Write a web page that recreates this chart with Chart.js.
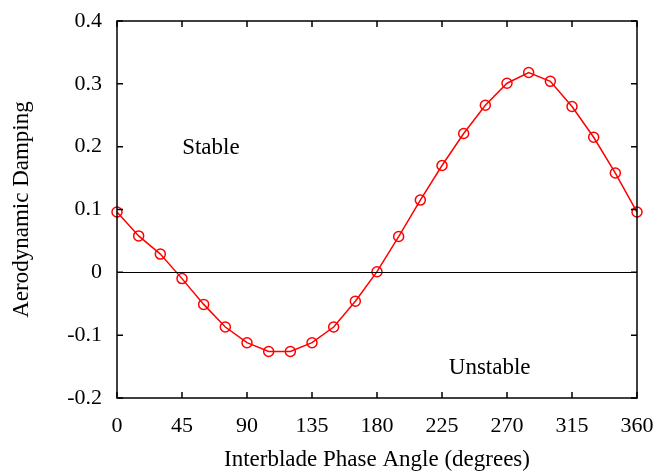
<!DOCTYPE html>
<html>
<head>
<meta charset="utf-8">
<script src="https://cdn.jsdelivr.net/npm/chart.js@4/dist/chart.umd.min.js"></script>
<style>
  html, body { margin: 0; padding: 0; background: #fff; }
  #wrap { width: 660px; height: 471px; }
</style>
</head>
<body>
<div id="wrap"><canvas id="dampingChart" width="660" height="471"></canvas></div>
<script>
// data
const phaseAngles = [0, 15, 30, 45, 60, 75, 90, 105, 120, 135, 150, 165, 180,
                     195, 210, 225, 240, 255, 270, 285, 300, 315, 330, 345, 360];
const damping = [0.096, 0.058, 0.029, -0.010, -0.051, -0.087, -0.112, -0.126, -0.126,
                 -0.112, -0.087, -0.046, 0.001, 0.057, 0.115, 0.170, 0.221, 0.266,
                 0.301, 0.318, 0.304, 0.264, 0.215, 0.158, 0.096];
const xTicks = [0, 45, 90, 135, 180, 225, 270, 315, 360];
const yTicks = [-0.2, -0.1, 0, 0.1, 0.2, 0.3, 0.4];
const labels = [
  { text: 'Stable', x: 65, y: 0.198 },
  { text: 'Unstable', x: 258, y: -0.152 }
];

const serif = '"Liberation Serif", "Times New Roman", serif';

// the scales would otherwise push the plot box in for their edge labels
function fixSize(prop, size) {
  return scale => {
    scale[prop] = size;
    scale.paddingTop = scale.paddingBottom = 0;
    scale.paddingLeft = scale.paddingRight = 0;
  };
}

// frame, inward ticks, zero line and the two region labels
const framePlugin = {
  id: 'frame',
  afterDatasetsDraw(chart) {
    const c = chart.ctx;
    const a = chart.chartArea;
    const xs = chart.scales.x, ys = chart.scales.y;
    const tl = 6;
    c.save();
    c.strokeStyle = '#000';

    // zero line
    c.lineWidth = 1;
    const y0 = Math.round(ys.getPixelForValue(0)) + 0.5;
    c.beginPath();
    c.moveTo(a.left, y0);
    c.lineTo(a.right, y0);
    c.stroke();

    c.lineWidth = 1.5;
    c.beginPath();
    xTicks.forEach(v => {
      const px = xs.getPixelForValue(v);
      c.moveTo(px, a.bottom); c.lineTo(px, a.bottom - tl);
      c.moveTo(px, a.top); c.lineTo(px, a.top + tl);
    });
    yTicks.forEach(v => {
      const py = ys.getPixelForValue(v);
      c.moveTo(a.left, py); c.lineTo(a.left + tl, py);
      c.moveTo(a.right, py); c.lineTo(a.right - tl, py);
    });
    c.stroke();
    c.strokeRect(a.left, a.top, a.right - a.left, a.bottom - a.top);

    c.fillStyle = '#000';
    c.font = '23px ' + serif;
    c.textAlign = 'center';
    c.textBaseline = 'middle';
    labels.forEach(l => {
      c.fillText(l.text, xs.getPixelForValue(l.x), ys.getPixelForValue(l.y));
    });
    c.restore();
  }
};

const ctx = document.getElementById('dampingChart');

new Chart(ctx, {
  type: 'line',
  data: {
    datasets: [{
      data: phaseAngles.map((a, i) => ({ x: a, y: damping[i] })),
      borderColor: '#ff0000',
      borderWidth: 1.5,
      backgroundColor: 'rgba(0,0,0,0)',
      pointBorderColor: '#ff0000',
      pointBackgroundColor: 'rgba(0,0,0,0)',
      pointBorderWidth: 1.5,
      pointRadius: 5,
      tension: 0,
      fill: false,
      clip: false
    }]
  },
  options: {
    responsive: false,
    animation: false,
    layout: { padding: { left: 0, right: 23, top: 21, bottom: 0 } },
    plugins: { legend: { display: false }, tooltip: { enabled: false } },
    scales: {
      x: {
        type: 'linear',
        min: 0, max: 360,
        afterFit: fixSize('height', 73),
        afterBuildTicks(scale) { scale.ticks = xTicks.map(v => ({ value: v })); },
        grid: { display: false, drawTicks: false },
        border: { display: false },
        ticks: {
          color: '#000', padding: 15, maxRotation: 0,
          font: { family: serif, size: 22 }
        },
        title: {
          display: true, text: 'Interblade Phase Angle (degrees)',
          color: '#000', font: { family: serif, size: 23 },
          padding: { top: 0, bottom: -3 }
        }
      },
      y: {
        min: -0.2, max: 0.4,
        afterFit: fixSize('width', 117),
        afterBuildTicks(scale) { scale.ticks = yTicks.map(v => ({ value: v })); },
        grid: { display: false, drawTicks: false },
        border: { display: false },
        ticks: {
          color: '#000', padding: 15,
          font: { family: serif, size: 22 },
          callback: v => String(Math.round(v * 10) / 10)
        },
        title: {
          display: true, text: 'Aerodynamic Damping',
          color: '#000', font: { family: serif, size: 23 },
          padding: { top: 8, bottom: 0 }
        }
      }
    }
  },
  plugins: [framePlugin]
});
</script>
</body>
</html>
